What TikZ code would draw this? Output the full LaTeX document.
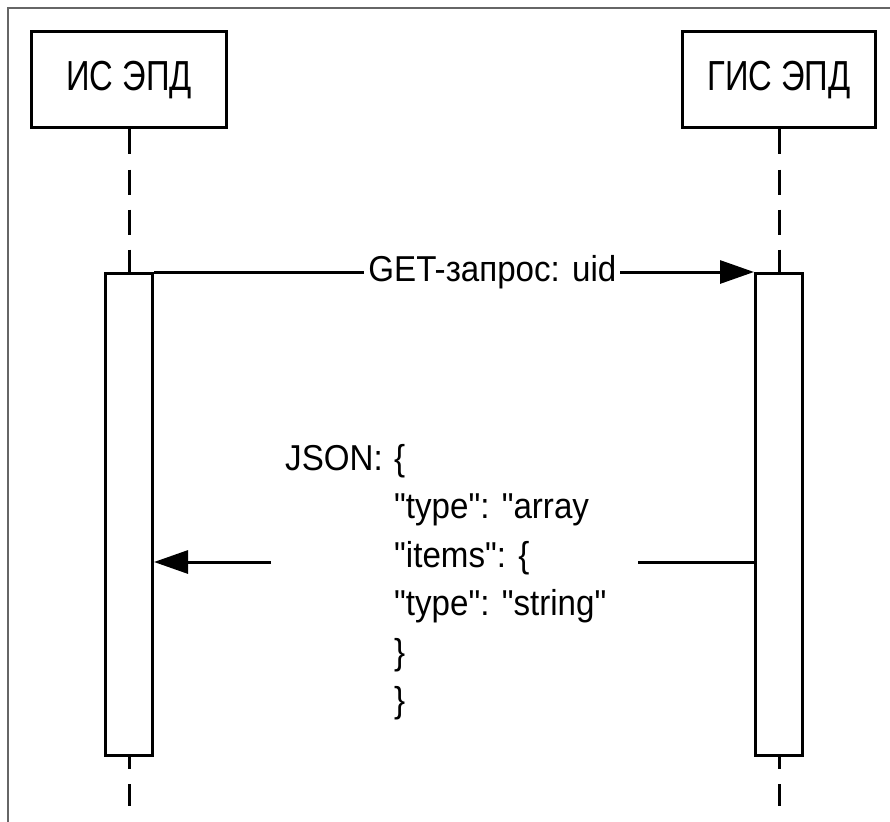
\documentclass[tikz,border=0pt]{standalone}
\usepackage{fontspec}
\setmainfont{Liberation Sans}
\newfontfamily\headfont{Liberation Sans}[FakeStretch=0.78]
\newfontfamily\msgfont{Liberation Sans}[FakeStretch=0.92]
\usetikzlibrary{arrows.meta,positioning}

\begin{document}
\begin{tikzpicture}[x=1pt,y=-1pt,
    head/.style={draw,line width=3pt,minimum width=195pt,minimum height=96pt,inner sep=0pt,font=\headfont\fontsize{42}{50}\selectfont},
    act/.style={draw,fill=white,line width=3pt,minimum width=47pt,minimum height=482pt,inner sep=0pt},
    life/.style={line width=3pt,dash pattern=on 25pt off 15pt},
    msg/.style={line width=3pt,-{Triangle[length=34pt,width=23pt]}},
    frame/.style={line width=2pt,color=black!60}]
  \useasboundingbox (0,0) rectangle (890,821);
  \draw[frame] (8,830)--(8,8)--(900,8);
  % participants
  \node[head] (isL) at (129,80) {ИС ЭПД};
  \node[head,minimum width=193pt] (gisR) at (779,80) {ГИС ЭПД};
  \node[act,anchor=north] (actL) at (129,272) {};
  \node[act,anchor=north] (actR) at (779,272) {};
  \coordinate (endL) at (129,806);
  \coordinate (endR) at (779,806);
  % lifelines
  \draw[life] (isL.south)--(actL.north);
  \draw[life] (gisR.south)--(actR.north);
  \draw[life,dash phase=13pt] (actL.south)--(endL);
  \draw[life,dash phase=13pt] (actR.south)--(endR);
  % request
  \draw[msg] (actL.north east)--node[pos=0.564,fill=white,inner xsep=4pt,inner ysep=1pt,font=\msgfont\fontsize{36}{43}\selectfont] (get) {GET-запрос: uid} (actR.north west);
  % answer
  \coordinate (retR) at (638,562);
  \coordinate (retL) at (271,562);
  \draw[line width=3pt] (actR.west |- retR)--(retR);
  \draw[msg] (retL)--(actL.east |- retL);
  \node[anchor=base west,inner sep=0pt,font=\msgfont\fontsize{36}{48.5}\selectfont] (json) at (285,470)
    {\begin{tabular}[t]{@{}l@{}l@{}}
      \makebox[109pt][l]{JSON:} & \{ \\
      & "type": "array \\
      & "items": \{ \\
      & "type": "string" \\
      & \} \\
      & \}
    \end{tabular}};
\end{tikzpicture}
\end{document}
